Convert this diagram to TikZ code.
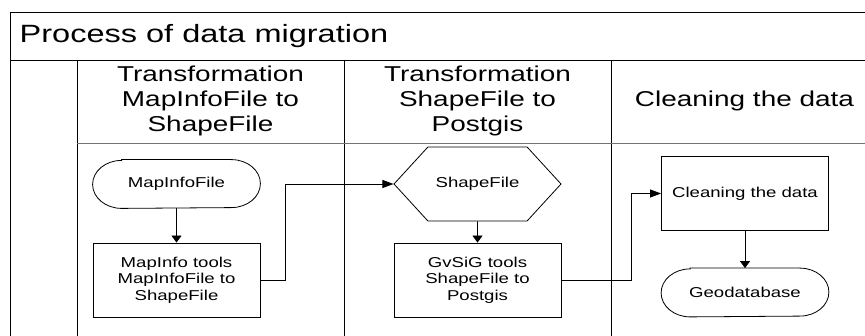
\documentclass[tikz,border=0pt]{standalone}
\usepackage{fontspec}
\setmainfont{Liberation Sans}[FakeStretch=1.3]
\usetikzlibrary{shapes.geometric, shapes.symbols, arrows.meta, positioning, calc}

\begin{document}
\begin{tikzpicture}[
    x=1pt, y=-1pt, line width=0.8pt,
    font=\fontsize{14.3}{16.5}\selectfont,
    pool/.style={draw, line width=0.9pt},
    sep/.style={draw=black!55, line width=0.9pt},
    block/.style={rectangle, draw, minimum width=167pt, minimum height=74pt, align=center, inner sep=0pt},
    terminal/.style={rectangle, minimum width=167pt, minimum height=48pt, align=center, inner sep=0pt},
    hexa/.style={signal, signal to=east and west, signal pointer angle=95, draw, minimum width=167pt, minimum height=74pt, inner sep=0pt},
    header/.style={align=center, font=\fontsize{21.5}{25.3}\selectfont},
    arrow/.style={-{Triangle[length=7pt,width=10pt]}},
    elbow/.style={-{Triangle[length=11pt,width=8pt]}}
]
    \useasboundingbox (0,0) rectangle (865,336);
    \clip (0,0) rectangle (865,336);

    % pool and lanes
    \draw[pool] (878,12) -- (10,12) -- (10,340);
    \draw[pool] (10,60) -- (878,60);
    \foreach \x in {77,344,611}
        \draw[pool] (\x,60) -- (\x,340);
    \draw[sep] (77,143) -- (878,143);

    \node[anchor=base west, font=\fontsize{25}{30}\selectfont] (title) at (16,43) {Process of data migration};
    \node[header] (lane1) at (210.5,101) {Transformation\\MapInfoFile to\\ShapeFile};
    \node[header] (lane2) at (477.5,101) {Transformation\\ShapeFile to\\Postgis};
    \node[header] (lane3) at (744.5,101) {Cleaning the data};

    % steps
    \node[terminal] (mif) at (176.5,184) {MapInfoFile};
    \node[block] (mit) at (176.5,280) {MapInfo tools\\MapInfoFile to\\ShapeFile};
    \node[hexa] (shp) at (477.5,184) {ShapeFile};
    \node[block] (gvs) at (477.5,280) {GvSiG tools\\ShapeFile to\\Postgis};
    \node[block] (cln) at (745,193.5) {Cleaning the data};
    \node[terminal] (geo) at (745,292.5) {Geodatabase};

    % terminal outlines
    \foreach \n in {mif,geo}
        \draw ([xshift=29pt]\n.north west) -- ([xshift=-29pt]\n.north east)
            arc[start angle=90, end angle=-90, x radius=29pt, y radius=24pt]
            -- ([xshift=29pt]\n.south west)
            arc[start angle=270, end angle=90, x radius=29pt, y radius=24pt] -- cycle;

    \draw[arrow] (mif) -- (mit);
    \draw[elbow] (mit.east) -- ++(25,0) |- (shp.west);
    \draw[arrow] (shp) -- (gvs);
    \draw[elbow] (gvs.east) -- ++(70,0) |- (cln.west);
    \draw[arrow] (cln) -- (geo);
\end{tikzpicture}
\end{document}
